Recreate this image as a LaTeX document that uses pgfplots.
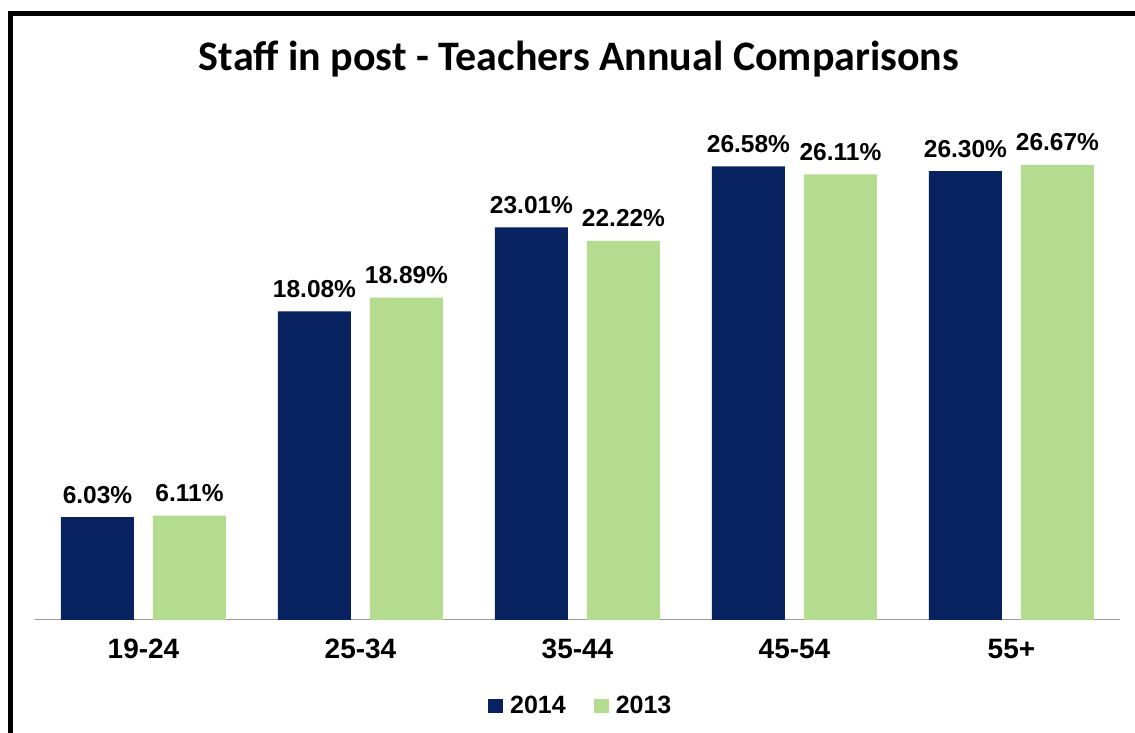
\documentclass[border=0pt]{standalone}
\usepackage{pgfplots}
\pgfplotsset{compat=1.18}
\usepackage{fontspec}
\setmainfont{Liberation Sans}
\newfontfamily\carlito{Carlito}
\definecolor{navy}{RGB}{8,34,96}
\definecolor{lgreen}{RGB}{180,220,142}
\begin{document}
\begin{tikzpicture}[x=1pt,y=1pt]
\useasboundingbox (-35,-113) rectangle (1100,620);
\fill[white] (-35,-113) rectangle (1100,620);
\draw[line width=5pt] (-24.5,-113) -- (-24.5,606) -- (1100,606);
\node[anchor=base] at (544,549) {\carlito\bfseries\fontsize{42}{48}\selectfont Staff in post - Teachers Annual Comparisons};
\begin{axis}[
  scale only axis, width=1085pt, height=512pt,
  xmin=-0.5, xmax=4.5, ymin=0, ymax=30,
  ybar=19pt, bar width=73pt,
  hide y axis,
  axis x line*=bottom,
  x axis line style={-, draw=gray!80, line width=1pt},
  xtick={0,1,2,3,4},
  xticklabels={19-24,25-34,35-44,45-54,55+},
  major tick length=0pt,
  xticklabel style={font=\bfseries\fontsize{28}{32}\selectfont, anchor=north, inner sep=0pt, yshift=-19pt},
  clip=false,
  nodes near coords={\pgfmathprintnumber[fixed,precision=2,fixed zerofill]{\pgfplotspointmeta}\%},
  every node near coord/.append style={font=\bfseries\fontsize{24.5}{28}\selectfont, anchor=base, inner sep=0pt, yshift=14pt},
  /pgf/number format/assume math mode=true,
  legend style={at={(0.503,-0.168)}, anchor=center, draw=none, fill=none, legend columns=2,
    font=\bfseries\fontsize{25}{28}\selectfont, inner sep=0pt,
    /tikz/every odd column/.append style={column sep=5pt},
    /tikz/every even column/.append style={column sep=26pt}},
  legend image code/.code={\fill[#1,draw=none] (0pt,-7pt) rectangle (15pt,7pt);},
]
\addplot[fill=navy, draw=none] coordinates {(0,6.03) (1,18.08) (2,23.01) (3,26.58) (4,26.30)};
\addplot[fill=lgreen, draw=none] coordinates {(0,6.11) (1,18.89) (2,22.22) (3,26.11) (4,26.67)};
\legend{2014,2013}
\end{axis}
\end{tikzpicture}
\end{document}
